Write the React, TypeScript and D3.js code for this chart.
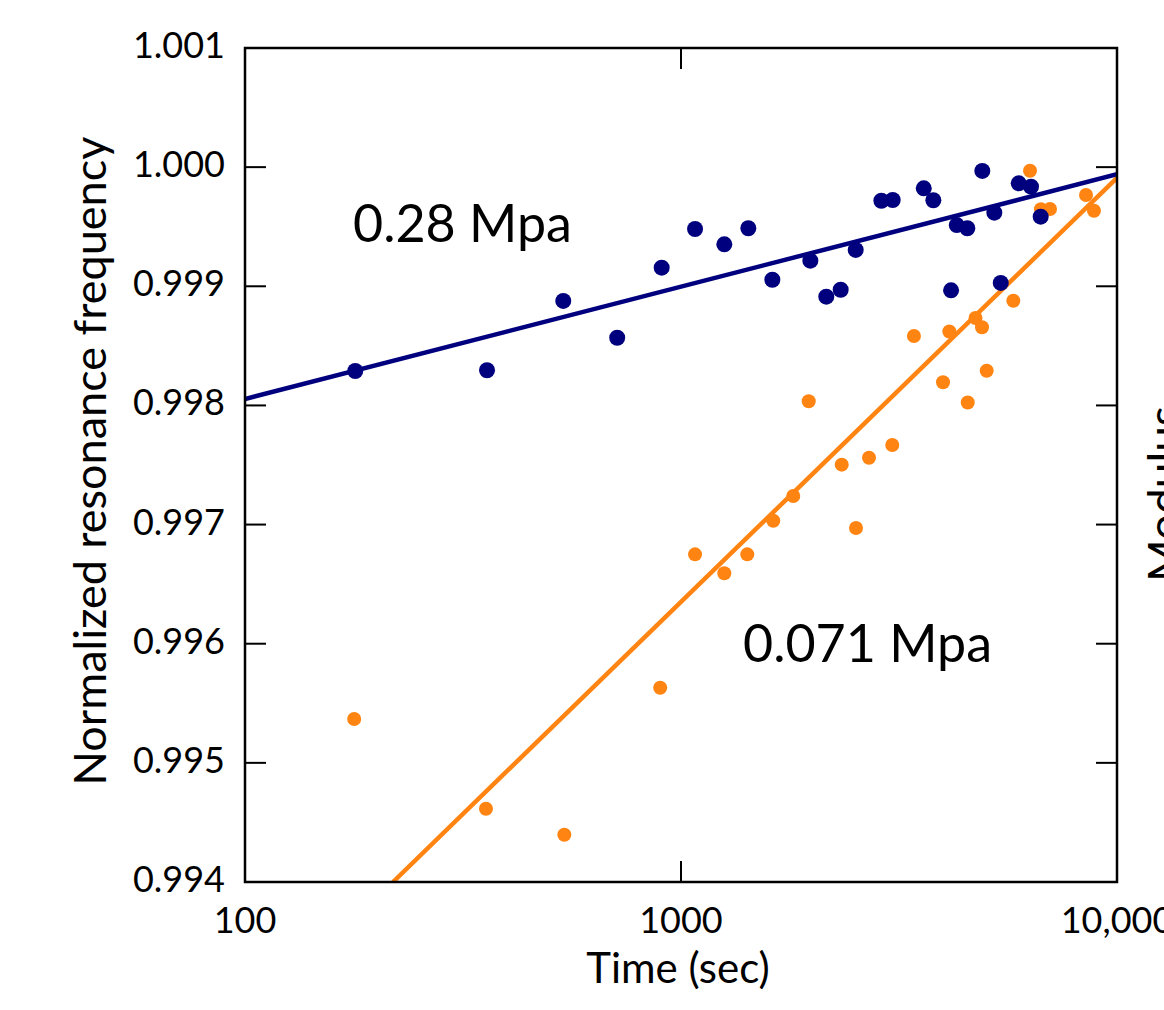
import React from "react";
import * as d3 from "d3";

// ---- Data ----
const navyTime = [179, 359, 537, 714, 903, 1077, 1257, 1427, 1620, 1980, 2154, 2324, 2516, 2881, 3059, 3604, 3791, 4163, 4290, 4536, 4910, 5232, 5412, 5951, 6350, 6683];
const navyFreq = [0.998289, 0.998295, 0.998877, 0.998568, 0.999156, 0.999481, 0.999352, 0.999487, 0.999055, 0.999215, 0.998913, 0.998971, 0.999305, 0.999718, 0.999724, 0.999822, 0.999722, 0.998966, 0.999514, 0.999487, 0.999968, 0.999618, 0.999028, 0.999864, 0.999836, 0.999584];

const orangeTime = [178, 357, 540, 896, 1077, 1257, 1419, 1628, 1809, 1963, 2337, 2520, 2699, 3052, 3422, 3990, 4125, 4546, 4737, 4902, 5025, 5784, 6317, 6693, 7020, 8491, 8855];
const orangeFreq = [0.995368, 0.994615, 0.994397, 0.995631, 0.99675, 0.996591, 0.99675, 0.997032, 0.99724, 0.998035, 0.997503, 0.996971, 0.997561, 0.997668, 0.998583, 0.998194, 0.998621, 0.998024, 0.998734, 0.998656, 0.998291, 0.998879, 0.99997, 0.999646, 0.999649, 0.999766, 0.999634];

// fit lines (endpoints)
const navyFitTime = [100, 10000];
const navyFitFreq = [0.998054, 0.99994];
const orangeFitTime = [218.5, 10000];
const orangeFitFreq = [0.994, 0.99991];

const xTicks = [100, 1000, 10000];
const xTickLabels = ["100", "1000", "10,000"];
const yTicks = [0.994, 0.995, 0.996, 0.997, 0.998, 0.999, 1.0, 1.001];
const yTickLabels = ["0.994", "0.995", "0.996", "0.997", "0.998", "0.999", "1.000", "1.001"];

const NAVY = "#00007f";
const ORANGE = "#ff8411";
const FONT = "Lato, 'Open Sans', sans-serif";

export default function App() {
  const W = 1164, H = 1010;
  const left = 245, right = 1117, top = 48, bottom = 882;
  const x = d3.scaleLog().domain([100, 10000]).range([left, right]);
  const y = d3.scaleLinear().domain([0.994, 1.001]).range([bottom, top]);

  const line = d3
    .line<[number, number]>()
    .x((d) => x(d[0]))
    .y((d) => y(d[1]));

  const navyFit: [number, number][] = navyFitTime.map((t, i) => [t, navyFitFreq[i]]);
  const orangeFit: [number, number][] = orangeFitTime.map((t, i) => [t, orangeFitFreq[i]]);

  return (
    <svg
      width={W}
      height={H}
      style={{ position: "absolute", left: 0, top: 0, background: "#fff" }}
      fontFamily={FONT}
    >
      <defs>
        <clipPath id="plotclip">
          <rect x={left} y={top} width={right - left} height={bottom - top} />
        </clipPath>
      </defs>

      <g clipPath="url(#plotclip)">
        <path d={line(orangeFit) || ""} stroke={ORANGE} strokeWidth={4.5} fill="none" />
        {orangeTime.map((t, i) => (
          <circle key={"o" + i} cx={x(t)} cy={y(orangeFreq[i])} r={7} fill={ORANGE} />
        ))}
        <path d={line(navyFit) || ""} stroke={NAVY} strokeWidth={4.5} fill="none" />
        {navyTime.map((t, i) => (
          <circle key={"n" + i} cx={x(t)} cy={y(navyFreq[i])} r={8} fill={NAVY} />
        ))}
      </g>

      {/* frame */}
      <rect x={left} y={top} width={right - left} height={bottom - top} fill="none" stroke="#000" strokeWidth={2.5} />

      {/* y ticks (left and right, inward) */}
      {yTicks.map((v, i) => (
        <g key={"yt" + i}>
          <line x1={left} x2={left + 21} y1={y(v)} y2={y(v)} stroke="#000" strokeWidth={2} />
          <line x1={right - 21} x2={right} y1={y(v)} y2={y(v)} stroke="#000" strokeWidth={2} />
          <text x={225} y={y(v) + 10} textAnchor="end" fontSize={36} fill="#000">
            {yTickLabels[i]}
          </text>
        </g>
      ))}

      {/* x ticks (bottom and top, inward) */}
      {xTicks.map((v, i) => (
        <g key={"xt" + i}>
          <line x1={x(v)} x2={x(v)} y1={bottom} y2={bottom - 21} stroke="#000" strokeWidth={2} />
          <line x1={x(v)} x2={x(v)} y1={top} y2={top + 21} stroke="#000" strokeWidth={2} />
          <text x={x(v)} y={933} textAnchor="middle" fontSize={36} fill="#000">
            {xTickLabels[i]}
          </text>
        </g>
      ))}

      {/* axis titles */}
      <text x={678} y={983} textAnchor="middle" fontSize={42} fill="#000">
        Time (sec)
      </text>
      <text
        transform={`translate(106, 461) rotate(-90)`}
        textAnchor="middle"
        fontSize={45}
        fill="#000"
      >
        Normalized resonance frequency
      </text>
      <text transform={`translate(1181, 582) rotate(-90)`} textAnchor="start" fontSize={46} fill="#000">
        Modulus
      </text>

      {/* annotations */}
      <text x={353} y={242} fontSize={52} fill="#000">
        0.28 Mpa
      </text>
      <text x={743} y={662} fontSize={52} fill="#000">
        0.071 Mpa
      </text>
    </svg>
  );
}
